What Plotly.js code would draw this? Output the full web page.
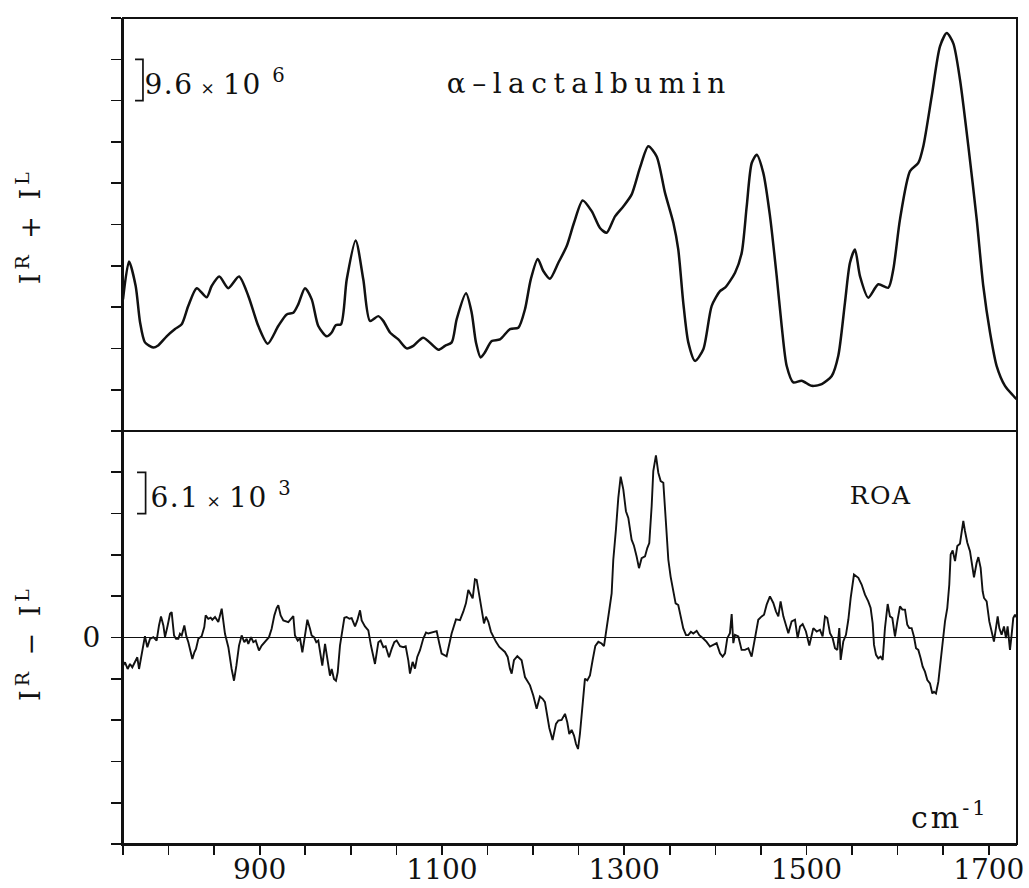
<!DOCTYPE html>
<html>
<head>
<meta charset="utf-8">
<script src="https://cdn.plot.ly/plotly-3.0.1.min.js"></script>
<style>
html,body{margin:0;padding:0;background:#fff;}
#chart{width:1029px;height:888px;}
</style>
</head>
<body>
<div id="chart"></div>
<script>
// Raman spectrum I^R + I^L (units of 10^6), wavenumber in cm^-1
const ramanX = [750,756.6,763.9,768.7,774.1,783.2,788.1,797.9,807.1,814.4,821.7,830.9,841.8,847.3,855.7,865.5,877.3,887.5,898.5,908.8,920.4,929.6,936.9,942.4,949.7,957.1,964.3,973.5,979.0,983.4,989.2,995.5,1005.3,1013.7,1021.0,1030.1,1035.6,1043.0,1052.1,1061.3,1068.6,1079.5,1096.0,1103.3,1110.7,1116.2,1126.4,1132.6,1137.3,1142.5,1147.2,1154.6,1163.7,1174.7,1183.8,1191.1,1197.4,1205.1,1211.2,1218.5,1227.7,1236.9,1244.9,1254.4,1264.3,1273.4,1280.8,1289.9,1299.0,1308.2,1317.3,1326.4,1335.6,1344.7,1353.9,1359.3,1364.8,1370.3,1377.7,1386.8,1396.0,1405.1,1410.6,1421.6,1428.9,1434.4,1439.9,1445.4,1452.6,1460.0,1467.3,1472.8,1478.3,1485.5,1494.7,1505.7,1516.7,1527.7,1534.9,1542.2,1547.7,1553.2,1558.7,1567.8,1578.8,1589.8,1595.3,1602.6,1613.6,1622.7,1628.2,1637.4,1646.5,1653.9,1661.1,1668.5,1677.6,1686.8,1694.0,1701.4,1708.7,1717.8,1727.0,1730.5];
const ramanY = [30.6,39.4,33.7,25.3,20.6,19.4,19.8,22.0,23.7,24.8,29.1,33.2,31.1,33.7,35.9,33.2,35.9,31.4,24.4,20.3,24.4,27.1,27.5,29.5,33.2,30.6,24.4,22.0,22.9,24.6,24.8,35.2,44.3,35.2,25.6,26.7,25.6,22.9,21.3,19.2,19.8,21.7,18.9,19.8,20.6,26.0,32.0,27.5,20.6,17.1,18.3,20.9,21.3,23.7,24.0,28.3,35.2,40.0,37.2,35.4,39.1,43.0,48.4,53.6,51.1,47.2,46.1,49.9,52.2,55.0,61.2,66.2,63.8,55.4,48.4,42.2,29.8,20.6,16.3,19.0,29.1,32.5,33.3,36.8,41.4,52.2,62.3,64.2,60.0,49.9,36.0,24.4,15.1,11.3,11.7,10.5,10.9,12.8,17.5,29.8,39.1,42.2,36.0,31.0,34.1,33.3,37.6,49.2,60.4,62.3,66.2,77.8,89.4,92.5,90.1,81.6,66.2,49.2,33.7,22.9,15.1,10.5,8.2,7.4];

// ROA spectrum I^R - I^L (units of 10^3)
const roaX = [750,752.2,755.1,757.7,760.2,763.2,765.7,767.6,769.8,771.2,774.1,776.7,779.6,783.3,786.9,789.5,791.7,794.3,796.1,799.0,801.6,803.4,806.0,808.2,810.7,812.5,814.4,817.3,819.5,821.7,823.5,826.1,828.3,830.1,832.7,836.3,839.2,840.7,843.6,846.2,848.0,851.0,854.6,858.3,861.9,865.6,869.2,871.8,874.4,877.3,880.2,883.1,885.7,887.5,890.5,893.0,895.6,899.2,902.2,907.6,910.2,913.1,916.1,918.6,920.4,923.0,925.9,931.4,934.3,936.9,938.7,941.7,944.2,946.8,949.7,952.3,955.2,957.0,959.6,962.1,964.3,966.9,968.7,971.7,974.6,977.1,979.0,981.5,983.7,985.6,988.1,990.7,992.9,995.4,998.4,1000.9,1002.7,1004.6,1007.1,1010.1,1011.9,1015.5,1019.2,1022.1,1026.5,1030.2,1032.7,1035.7,1038.2,1041.9,1044.8,1047.7,1050.3,1054.0,1057.6,1060.2,1063.1,
1064.9,1067.8,1070.4,1072.9,1075.9,1079.5,1082.5,1085.0,1088.7,1094.2,1097.1,1099.6,1105.1,1108.1,1110.6,1115.4,1119.8,1123.4,1126.3,1128.9,1131.5,1133.7,1136.2,1138.1,1140.6,1143.5,1146.1,1148.3,1150.9,1153.8,1156.3,1159.3,1162.9,1169.1,1172.1,1174.6,1176.5,1179.0,1182.7,1187.4,1191.1,1193.6,1196.6,1200.2,1203.9,1207.5,1210.5,1213.0,1215.6,1217.8,1221.4,1225.1,1227.7,1231.3,1235.0,1237.5,1239.7,1242.3,1244.9,1247.1,1249.3,1251.4,1254.4,1256.9,1259.5,1262.4,1265.3,1268.3,1271.6,1275.2,1277.8,1280.7,1283.6,1286.2,1288.0,1290.9,1293.5,1296.1,1299.0,1301.9,1304.5,1308.1,1310.7,1313.6,1316.2,1319.1,1322.8,1325.3,1327.5,1330.1,1331.9,1334.8,1337.4,1340.0,1342.9,1345.8,1348.4,1350.9,1353.9,1356.4,1359.3,1361.9,1364.8,1367.8,1370.3,1373.2,1375.8,1379.5,1382.4,1386.8,1390.4,
1394.1,1397.8,1401.4,1405.1,1408.0,1410.6,1413.1,1416.0,1417.9,1419.7,1421.5,1425.2,1428.8,1432.5,1436.2,1439.8,1443.5,1447.1,1450.8,1453.4,1456.3,1459.9,1463.6,1466.5,1469.1,1471.6,1474.6,1477.5,1480.1,1483.7,1487.4,1490.3,1492.9,1495.8,1499.4,1503.1,1505.7,1507.5,1511.2,1514.8,1517.7,1520.3,1522.8,1525.8,1528.7,1531.3,1533.8,1536.0,1537.5,1540.4,1543.3,1545.9,1548.5,1552.1,1556.9,1560.5,1564.2,1567.8,1570.4,1572.6,1574.1,1576.3,1578.8,1581.4,1583.6,1586.1,1589.1,1591.6,1594.2,1597.1,1599.7,1602.6,1605.2,1608.1,1610.6,1612.8,1615.4,1617.9,1620.2,1622.7,1625.3,1627.5,1630.0,1632.6,1635.5,1638.1,1639.9,1642.1,1644.7,1647.2,1649.4,1652.0,1654.5,1656.7,1658.2,1660.4,1663.0,1665.5,1668.4,1670.3,1672.1,1673.9,1676.5,1679.4,1681.9,1683.8,1686.7,1688.6,1691.1,1693.3,1694.8,1697.7,1700.6,1703.2,1705.7,1707.9,1709.8,1711.6,1714.1,1716.7,1718.9,1720.7,1723.3,1725.1,1726.9,1728.8,1730.5];
const roaY = [-4.16,-3.66,-4.65,-3.91,-4.40,-3.66,-2.92,-4.65,-3.17,-1.68,0.20,-1.43,-0.20,0.05,-0.45,1.78,3.12,1.78,0.05,1.78,3.51,3.76,0.30,-0.20,-0.20,0.54,0.30,1.78,0.20,-0.69,-1.68,-3.17,-2.18,-1.68,-0.20,0.20,1.53,3.27,2.77,2.92,2.62,3.02,2.28,4.25,0.54,-1.43,-4.65,-6.38,-4.16,-1.19,0.30,-0.69,-0.20,-0.94,0.05,-0.69,-0.45,-1.93,-1.19,-0.45,0.05,1.29,3.27,4.35,4.75,3.27,2.52,2.28,2.77,3.17,0.30,-0.45,-0.10,-2.18,0.30,2.62,1.29,0.30,0.05,-0.69,-0.45,-2.42,-4.16,-0.94,-3.17,-5.64,-4.65,-6.13,-6.38,-5.14,-1.19,0.79,2.92,3.02,2.77,2.87,2.28,1.63,2.52,4.01,2.52,1.63,1.04,-1.19,-3.91,-0.69,-0.45,-1.43,-1.29,-2.92,-1.68,-0.69,-0.45,-1.29,-1.43,-1.29,-3.41,
-5.34,-3.61,-4.60,-2.87,-1.88,-0.15,0.74,0.59,0.74,0.94,-0.89,-2.37,-2.77,-0.89,0.59,2.67,2.57,3.81,5.05,7.02,6.28,5.79,8.61,8.51,6.53,4.06,2.08,3.07,2.33,0.84,0.10,-0.64,-1.39,-2.13,-2.87,-4.60,-5.34,-3.36,-2.77,-3.36,-5.84,-6.33,-7.07,-8.56,-10.54,-8.71,-9.05,-9.55,-11.77,-13.36,-15.14,-12.76,-12.27,-12.17,-11.28,-12.52,-14.25,-13.65,-14.49,-15.73,-16.47,-14.25,-9.80,-6.08,-6.33,-5.59,-3.36,-1.24,-0.64,-0.89,-1.29,1.09,4.06,6.53,11.48,15.93,20.63,23.75,21.87,18.65,17.66,14.45,13.55,11.97,10.24,11.72,11.97,13.21,13.95,19.39,24.59,26.91,24.34,23.10,22.86,16.92,11.48,9.00,6.78,5.05,4.80,3.31,1.34,0.35,0.35,0.84,0.59,0.99,0.35,-0.15,-0.64,
-1.34,-1.09,-0.84,-2.33,-2.82,-2.33,-0.10,0.64,3.46,-0.84,0.40,0.15,-1.83,-1.83,-1.58,-2.82,-0.10,2.62,3.12,3.36,4.85,6.08,5.10,3.86,3.12,5.34,3.12,1.88,0.64,2.37,2.62,-0.10,1.63,1.98,0.89,-1.19,0.64,1.39,0.89,1.14,0.15,3.12,2.87,0.64,-0.10,-1.58,-1.83,1.39,-3.31,-0.59,0.40,2.62,5.84,9.30,8.81,7.82,6.33,5.34,4.35,2.13,-1.09,-2.57,-3.07,-2.82,-3.31,1.39,4.95,3.12,2.87,0.15,2.37,4.60,4.11,4.11,1.88,1.39,1.39,0.15,-1.58,-1.83,-3.07,-4.30,-5.05,-6.28,-6.78,-8.26,-8.01,-8.26,-6.53,-3.56,-0.59,2.37,4.35,7.82,12.27,12.86,11.28,13.51,13.85,15.48,17.22,15.73,14.00,12.76,10.54,8.90,11.03,11.87,10.29,6.83,5.84,5.34,2.37,0.89,-0.59,1.39,3.12,1.39,0.40,1.63,-0.10,1.63,-1.83,0.40,2.87,3.36,3.0];

// Axis ticks
const xLabelVals = [900,1100,1300,1500,1700];
const xMinorVals = [750,800,850,950,1000,1050,1150,1200,1250,1350,1400,1450,1550,1600,1650];
const ramanTicks = [0,9.6,19.2,28.8,38.4,48,57.6,67.2,76.8,86.4,96];
const roaLabelVals = [0];
const roaMinorVals = [-30.5,-24.4,-18.3,-12.2,-6.1,6.1,12.2,18.3,24.4,30.5];

const SERIF = 'DejaVu Serif, Liberation Serif, serif';
const INK = '#111';

const traces = [
  {x: ramanX, y: ramanY, xaxis:'x', yaxis:'y', type:'scatter', mode:'lines',
   line:{color:INK, width:2.5, shape:'spline', smoothing:0.7}, hoverinfo:'skip'},
  {x: roaX, y: roaY, xaxis:'x', yaxis:'y2', type:'scatter', mode:'lines',
   line:{color:INK, width:1.9}, hoverinfo:'skip'}
];

const tickStyle = {ticks:'outside', tickwidth:1.6, tickcolor:INK};

const layout = {
  width:1029, height:888,
  margin:{l:123, r:12, t:18, b:44, pad:0},
  paper_bgcolor:'#fff', plot_bgcolor:'#fff',
  showlegend:false,
  font:{family:SERIF, size:28, color:INK},
  xaxis:Object.assign({range:[750,1731], anchor:'y2', tickmode:'array', tickvals:xLabelVals,
         ticklen:9, ticklabelstandoff:-10,
         minor:Object.assign({tickmode:'array', tickvals:xMinorVals, ticklen:9, showgrid:false}, tickStyle),
         showline:true, linewidth:2, linecolor:INK, showgrid:false, zeroline:false,
         tickfont:{family:SERIF, size:28, color:INK}}, tickStyle),
  yaxis:Object.assign({domain:[0.5,1], range:[0,96], anchor:'x', tickmode:'array', tickvals:ramanTicks,
         showticklabels:false, ticklen:10,
         showline:true, linewidth:2, linecolor:INK, showgrid:false, zeroline:false}, tickStyle),
  yaxis2:Object.assign({domain:[0,0.5], range:[-30.5,30.5], anchor:'x', tickmode:'array', tickvals:roaLabelVals,
         ticklen:10, ticklabelstandoff:5,
         minor:Object.assign({tickmode:'array', tickvals:roaMinorVals, ticklen:10, showgrid:false}, tickStyle),
         showline:true, linewidth:2, linecolor:INK, showgrid:false,
         zeroline:true, zerolinecolor:INK, zerolinewidth:1.4,
         tickfont:{family:SERIF, size:28, color:INK}}, tickStyle),
  shapes:[
    {type:'rect', xref:'paper', yref:'paper', x0:0, x1:1, y0:0, y1:1, line:{color:INK, width:2}},
    {type:'line', xref:'paper', yref:'paper', x0:0, x1:1, y0:0.5, y1:0.5, line:{color:INK, width:2}},
    {type:'path', xref:'x', yref:'y', path:'M 763.2,86.4 L 771.9,86.4 L 771.9,76.8 L 763.2,76.8', line:{color:INK, width:1.7}},
    {type:'path', xref:'x', yref:'y2', path:'M 765.4,24.4 L 774.8,24.4 L 774.8,18.3 L 765.4,18.3', line:{color:INK, width:1.7}}
  ],
  annotations:[
    {text:'α–lactalbumin', xref:'paper', yref:'paper', x:0.522, y:0.921, xanchor:'center', yanchor:'middle',
     showarrow:false, font:{family:SERIF, size:28, color:INK}},
    {text:"9.6<span style='font-size:17px'> × </span>10 <sup>6</sup>", xref:'paper', yref:'paper', x:0.1035, y:0.9225,
     xanchor:'center', yanchor:'middle', showarrow:false, font:{family:SERIF, size:28, color:INK}},
    {text:"6.1<span style='font-size:17px'> × </span>10 <sup>3</sup>", xref:'paper', yref:'paper', x:0.1100, y:0.4225,
     xanchor:'center', yanchor:'middle', showarrow:false, font:{family:SERIF, size:28, color:INK}},
    {text:'ROA', xref:'paper', yref:'paper', x:0.813, y:0.4225, xanchor:'left', yanchor:'middle',
     showarrow:false, font:{family:SERIF, size:25, color:INK}},
    {text:'cm<sup>-1</sup>', xref:'paper', yref:'paper', x:0.925, y:0.0345, xanchor:'center', yanchor:'middle',
     showarrow:false, font:{family:SERIF, size:30, color:INK}},
    {text:'I<sup>R</sup> + I<sup>L</sup>', xref:'paper', yref:'paper', x:0, xshift:-95, y:0.748, xanchor:'center', yanchor:'middle',
     textangle:-90, showarrow:false, font:{family:SERIF, size:27, color:INK}},
    {text:'I<sup>R</sup> − I<sup>L</sup>', xref:'paper', yref:'paper', x:0, xshift:-95, y:0.2433, xanchor:'center', yanchor:'middle',
     textangle:-90, showarrow:false, font:{family:SERIF, size:27, color:INK}}
  ]
};

Plotly.newPlot('chart', traces, layout, {displayModeBar:false, staticPlot:true}).then(function(){
  const t = document.querySelectorAll('g.annotation text.annotation-text');
  const spacing = ['6.5px','1.5px','1.5px','1.5px','3px','4px','4px'];
  t.forEach(function(el, i){ if (spacing[i]) el.style.letterSpacing = spacing[i]; });
});
</script>
</body>
</html>
